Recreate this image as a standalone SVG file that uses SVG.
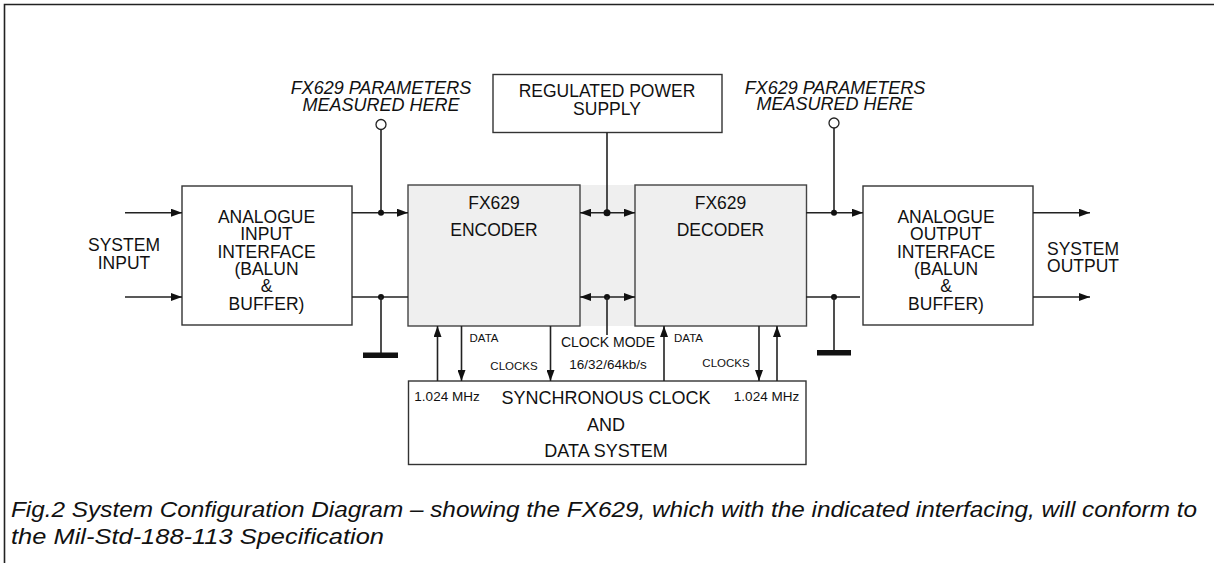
<svg xmlns="http://www.w3.org/2000/svg" width="1214" height="563" viewBox="0 0 1214 563">
<defs>
<style>
.t{font-family:"Liberation Sans",Arial,sans-serif;fill:#111;text-anchor:middle}
.it{font-style:italic}
.box{fill:#fff;stroke:#333;stroke-width:1.4}
.chip{fill:#efefef;stroke:#444;stroke-width:1.4}
.ln{fill:none;stroke:#222;stroke-width:1.6}
.dot{fill:#111}
</style>
<marker id="ah" viewBox="0 0 11 8" refX="11" refY="4" markerWidth="11" markerHeight="8" markerUnits="userSpaceOnUse" orient="auto-start-reverse">
<path d="M0,0 L11,4 L0,8 z" fill="#111"/>
</marker>
</defs>
<rect x="0" y="0" width="1214" height="563" fill="#fff"/>
<path d="M4.5,563 V4.5 H1214" fill="none" stroke="#222" stroke-width="1.6"/>

<rect x="408" y="185" width="398" height="141" fill="#efefef"/>

<g id="power">
<rect class="box" x="493" y="74.5" width="229" height="58"/>
<text class="t" x="607" y="97" font-size="17.5">REGULATED POWER</text>
<text class="t" x="607" y="114.5" font-size="17.5">SUPPLY</text>
</g>

<g id="input-interface">
<rect class="box" x="182" y="186" width="170" height="139"/>
<text class="t" x="266.5" y="222.5" font-size="17.5">ANALOGUE</text>
<text class="t" x="266.5" y="240" font-size="17.5">INPUT</text>
<text class="t" x="266.5" y="257.5" font-size="17.5">INTERFACE</text>
<text class="t" x="266.5" y="275" font-size="17.5">(BALUN</text>
<text class="t" x="266.5" y="292" font-size="17.5">&amp;</text>
<text class="t" x="266.5" y="309.5" font-size="17.5">BUFFER)</text>
</g>

<g id="encoder">
<rect class="chip" x="408" y="185" width="172" height="141"/>
<text class="t" x="494" y="209" font-size="17.5">FX629</text>
<text class="t" x="494" y="236" font-size="17.5">ENCODER</text>
</g>

<g id="decoder">
<rect class="chip" x="635" y="185" width="171.5" height="141"/>
<text class="t" x="720.5" y="209" font-size="17.5">FX629</text>
<text class="t" x="720.5" y="236" font-size="17.5">DECODER</text>
</g>

<g id="output-interface">
<rect class="box" x="863" y="186" width="170" height="139"/>
<text class="t" x="946" y="222.5" font-size="17.5">ANALOGUE</text>
<text class="t" x="946" y="240" font-size="17.5">OUTPUT</text>
<text class="t" x="946" y="257.5" font-size="17.5">INTERFACE</text>
<text class="t" x="946" y="275" font-size="17.5">(BALUN</text>
<text class="t" x="946" y="292" font-size="17.5">&amp;</text>
<text class="t" x="946" y="309.5" font-size="17.5">BUFFER)</text>
</g>

<g id="sync-clock">
<rect class="box" x="408.5" y="381" width="397.5" height="83.5"/>
<text class="t" x="606" y="404" font-size="18">SYNCHRONOUS CLOCK</text>
<text class="t" x="606" y="430.5" font-size="18">AND</text>
<text class="t" x="606" y="456.5" font-size="18">DATA SYSTEM</text>
<text class="t" x="447" y="400.5" font-size="13.5">1.024 MHz</text>
<text class="t" x="766.5" y="400.5" font-size="13.5">1.024 MHz</text>
</g>

<g id="labels">
<text class="t" x="124" y="251" font-size="17.5">SYSTEM</text>
<text class="t" x="124" y="268.5" font-size="17.5">INPUT</text>
<text class="t" x="1083" y="255" font-size="17.5">SYSTEM</text>
<text class="t" x="1083" y="271.5" font-size="17.5">OUTPUT</text>
<text class="t it" x="381" y="94" font-size="18">FX629 PARAMETERS</text>
<text class="t it" x="381" y="110.5" font-size="18">MEASURED HERE</text>
<text class="t it" x="835" y="93.5" font-size="18">FX629 PARAMETERS</text>
<text class="t it" x="835" y="110" font-size="18">MEASURED HERE</text>
<text class="t" x="484" y="341.5" font-size="11.5">DATA</text>
<text class="t" x="514" y="370" font-size="11.5">CLOCKS</text>
<text class="t" x="688.5" y="341.5" font-size="11.5">DATA</text>
<text class="t" x="726" y="367" font-size="11.5">CLOCKS</text>
<text class="t" x="608" y="346.5" font-size="14">CLOCK MODE</text>
<text class="t" x="608" y="369" font-size="13.5">16/32/64kb/s</text>
</g>

<g id="connectors">
<line class="ln" x1="125" y1="212.7" x2="182" y2="212.7" marker-end="url(#ah)"/>
<line class="ln" x1="125" y1="297" x2="182" y2="297" marker-end="url(#ah)"/>
<line class="ln" x1="352" y1="212.7" x2="408" y2="212.7" marker-end="url(#ah)"/>
<line class="ln" x1="352" y1="297" x2="408" y2="297"/>
<line class="ln" x1="381" y1="129.5" x2="381" y2="212.7"/>
<circle cx="381" cy="124.5" r="5" fill="#fff" stroke="#222" stroke-width="1.3"/>
<circle class="dot" cx="381" cy="212.7" r="3"/>
<circle class="dot" cx="381" cy="297" r="3"/>
<line class="ln" x1="381" y1="297" x2="381" y2="353"/>
<rect x="363" y="352.5" width="35" height="5.5" fill="#111"/>

<line class="ln" x1="607" y1="132.5" x2="607" y2="212.7"/>
<line class="ln" x1="580" y1="212.7" x2="635" y2="212.7" marker-start="url(#ah)" marker-end="url(#ah)"/>
<circle class="dot" cx="607" cy="212.7" r="3.5"/>
<line class="ln" x1="580" y1="297" x2="635" y2="297" marker-start="url(#ah)" marker-end="url(#ah)"/>
<circle class="dot" cx="607" cy="297" r="3"/>
<line class="ln" x1="607" y1="297" x2="607" y2="335"/>

<line class="ln" x1="806" y1="212.7" x2="863" y2="212.7" marker-end="url(#ah)"/>
<line class="ln" x1="806" y1="297" x2="860" y2="297"/>
<line class="ln" x1="834" y1="128" x2="834" y2="212.7"/>
<circle cx="834" cy="123" r="5" fill="#fff" stroke="#222" stroke-width="1.3"/>
<circle class="dot" cx="834" cy="212.7" r="3"/>
<circle class="dot" cx="834" cy="297" r="3"/>
<line class="ln" x1="834" y1="297" x2="834" y2="351"/>
<rect x="817" y="350" width="34" height="5.5" fill="#111"/>

<line class="ln" x1="1033" y1="212.7" x2="1090" y2="212.7" marker-end="url(#ah)"/>
<line class="ln" x1="1033" y1="297" x2="1090" y2="297" marker-end="url(#ah)"/>

<line class="ln" x1="437.5" y1="381" x2="437.5" y2="326" marker-end="url(#ah)"/>
<line class="ln" x1="461.5" y1="326" x2="461.5" y2="381" marker-end="url(#ah)"/>
<line class="ln" x1="550.5" y1="326" x2="550.5" y2="381" marker-end="url(#ah)"/>
<line class="ln" x1="664" y1="381" x2="664" y2="326" marker-end="url(#ah)"/>
<line class="ln" x1="759" y1="326" x2="759" y2="381" marker-end="url(#ah)"/>
<line class="ln" x1="777" y1="381" x2="777" y2="326" marker-end="url(#ah)"/>
</g>

<g id="caption">
<text class="t it" x="11" y="517" font-size="22.5" style="text-anchor:start" textLength="1186" lengthAdjust="spacingAndGlyphs">Fig.2  System Configuration Diagram – showing the FX629, which with the indicated interfacing, will conform to</text>
<text class="t it" x="11" y="544" font-size="22.5" style="text-anchor:start" textLength="373" lengthAdjust="spacingAndGlyphs">the Mil-Std-188-113 Specification</text>
</g>
</svg>
